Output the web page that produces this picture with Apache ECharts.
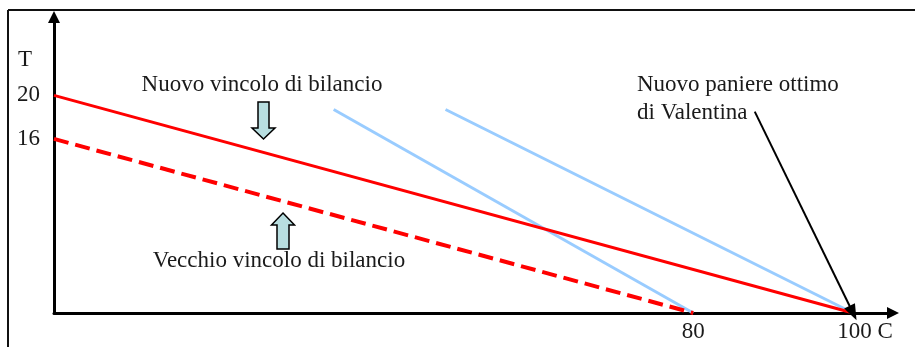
<!DOCTYPE html>
<html>
<head>
<meta charset="utf-8">
<script src="https://cdn.jsdelivr.net/npm/echarts@6/dist/echarts.min.js"></script>
<style>
html,body{margin:0;padding:0;background:#fff;}
#chart{width:915px;height:347px;}
</style>
</head>
<body>
<div id="chart"></div>
<script>
// Data (C on x-axis, T on y-axis)
const newBudget = [[0, 20], [100, 0]];        // Nuovo vincolo di bilancio
const oldBudget = [[0, 16], [80, 0]];         // Vecchio vincolo di bilancio
const indiff1 = [[35, 18.7], [80, 0]];        // curva di indifferenza (vecchio ottimo)
const indiff2 = [[49, 18.7], [100, 0]];       // curva di indifferenza (nuovo ottimo)
const xTickValues = [80, 100];
const yTickValues = [16, 20];
const optimumLabelFrom = [87.7, 18.5];
const optimumPoint = [100, 0];

const FONT = '"Liberation Serif", "Times New Roman", serif';
const chart = echarts.init(document.getElementById('chart'), null, {renderer: 'canvas'});

const option = {
  animation: false,
  backgroundColor: '#ffffff',
  grid: {left: 54, right: 22, top: 17, bottom: 34, outerBoundsMode: 'none', containLabel: false},
  xAxis: {
    type: 'value', min: 0, max: 105,
    axisLine: {show: true, onZero: false, lineStyle: {color: '#000', width: 3},
      symbol: ['none', 'triangle'], symbolSize: [12, 12]},
    axisTick: {show: false},
    splitLine: {show: false},
    axisLabel: {
      customValues: xTickValues,
      margin: 7,
      fontFamily: FONT, fontSize: 23, color: '#1a1a1a',
      formatter: function (v) { return v === 100 ? '{a|100 C}' : String(v); },
      rich: {a: {fontFamily: FONT, fontSize: 23, color: '#1a1a1a', padding: [0, 0, 0, 24]}}
    }
  },
  yAxis: {
    type: 'value', min: 0, max: 27.2,
    axisLine: {show: true, onZero: false, lineStyle: {color: '#000', width: 3},
      symbol: ['none', 'triangle'], symbolSize: [12, 12]},
    axisTick: {show: false},
    splitLine: {show: false},
    axisLabel: {
      customValues: yTickValues,
      margin: 14,
      fontFamily: FONT, fontSize: 23, color: '#1a1a1a'
    }
  },
  series: [
    {type: 'line', data: indiff1, showSymbol: false, silent: true,
      lineStyle: {color: '#99CCFF', width: 3}},
    {type: 'line', data: indiff2, showSymbol: false, silent: true,
      lineStyle: {color: '#99CCFF', width: 3}},
    {type: 'line', data: oldBudget, showSymbol: false, silent: true,
      lineStyle: {color: '#FF0000', width: 4, type: [15, 7]}},
    {type: 'line', data: newBudget, showSymbol: false, silent: true,
      lineStyle: {color: '#FF0000', width: 3},
      markLine: {
        silent: true, animation: false,
        symbol: ['none', 'triangle'], symbolSize: [12, 16],
        label: {show: false},
        lineStyle: {color: '#000', width: 2, type: 'solid'},
        data: [[{coord: optimumLabelFrom}, {coord: optimumPoint}]]
      }}
  ],
  graphic: [
    {type: 'line', shape: {x1: 8, y1: 10, x2: 915, y2: 10}, style: {stroke: '#111', lineWidth: 2}},
    {type: 'line', shape: {x1: 8, y1: 10, x2: 8, y2: 347}, style: {stroke: '#111', lineWidth: 2}},
    {type: 'text', x: 18, y: 60, style: {text: 'T', font: '23px ' + FONT, fill: '#1a1a1a', textVerticalAlign: 'middle'}},
    {type: 'text', x: 262, y: 85, style: {text: 'Nuovo vincolo di bilancio', font: '23px ' + FONT, fill: '#1a1a1a', textAlign: 'center', textVerticalAlign: 'middle'}},
    {type: 'text', x: 279, y: 261, style: {text: 'Vecchio vincolo di bilancio', font: '23px ' + FONT, fill: '#1a1a1a', textAlign: 'center', textVerticalAlign: 'middle'}},
    {type: 'text', x: 637, y: 85, style: {text: 'Nuovo paniere ottimo', font: '23px ' + FONT, fill: '#1a1a1a', textAlign: 'left', textVerticalAlign: 'middle'}},
    {type: 'text', x: 637, y: 113, style: {text: 'di Valentina', font: '23px ' + FONT, fill: '#1a1a1a', textAlign: 'left', textVerticalAlign: 'middle'}},
    {type: 'polygon', shape: {points: [[258,102],[269,102],[269,128],[275,128],[263.5,139],[252,128],[258,128]]},
      style: {fill: '#B8DEE0', stroke: '#000', lineWidth: 1.5}},
    {type: 'polygon', shape: {points: [[283,213],[294.5,225],[289,225],[289,249],[277,249],[277,225],[271.5,225]]},
      style: {fill: '#B8DEE0', stroke: '#000', lineWidth: 1.5}}
  ]
};
chart.setOption(option);
</script>
</body>
</html>
